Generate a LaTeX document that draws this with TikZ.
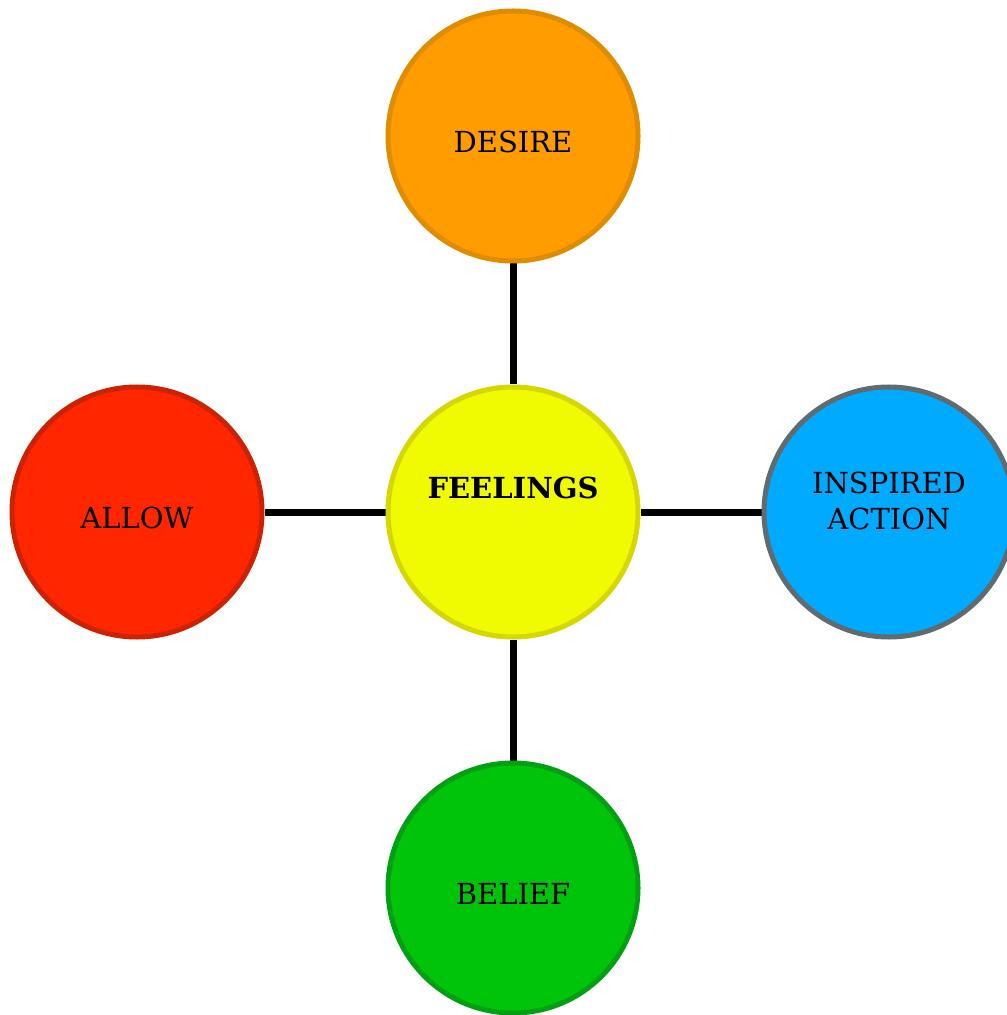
\documentclass[tikz,border=0pt]{standalone}
\usepackage{fontspec}
\setmainfont{DejaVu Serif}
\usepackage{tikz}
\usetikzlibrary{positioning,backgrounds}
\definecolor{feelFill}{HTML}{F0FA00}
\definecolor{feelLine}{HTML}{D4D800}
\definecolor{desireFill}{HTML}{FF9C00}
\definecolor{desireLine}{HTML}{E08C00}
\definecolor{allowFill}{HTML}{FF2600}
\definecolor{allowLine}{HTML}{CC2200}
\definecolor{actionFill}{HTML}{00AAFF}
\definecolor{actionLine}{HTML}{5F6B6E}
\definecolor{beliefFill}{HTML}{00C40A}
\definecolor{beliefLine}{HTML}{00A012}

\begin{document}
\begin{tikzpicture}[x=0.5pt, y=0.5pt,
  node distance=60.5pt, every node/.style={font=\fontsize{14.5pt}{18pt}\selectfont, text=black},
  bubble/.style={circle, minimum size=125pt, inner sep=0pt, line width=2.5pt},
  tag/.style ={align=center},
  link/.style={draw=black, line width=3.5pt}]
\useasboundingbox (0,0) rectangle (1006,-1015);
\node[bubble, fill=feelFill, draw=feelLine,
      label={[tag, yshift=12pt, font=\fontsize{14.5pt}{18pt}\selectfont\bfseries]center:FEELINGS}] (feelings) at (513,-512) {};
\node[bubble, fill=desireFill, draw=desireLine, above=of feelings,
      label={[tag, yshift=-3pt]center:DESIRE}] (desire) {};
\node[bubble, fill=allowFill, draw=allowLine, left=of feelings,
      label={[tag, yshift=-3pt]center:ALLOW}] (allow) {};
\node[bubble, fill=actionFill, draw=actionLine, right=of feelings,
      label={[tag, yshift=5.5pt]center:INSPIRED\\ACTION}] (action) {};
\node[bubble, fill=beliefFill, draw=beliefLine, below=of feelings,
      label={[tag, yshift=-3pt]center:BELIEF}] (belief) {};
\begin{scope}[on background layer]
\foreach \dst in {desire,allow,action,belief} {\draw[link] (feelings) -- (\dst);}
\end{scope}
\end{tikzpicture}
\end{document}
